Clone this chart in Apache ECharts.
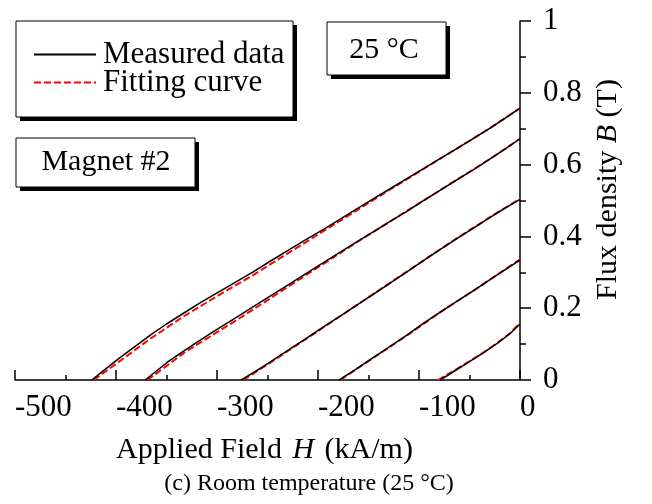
<!DOCTYPE html>
<html>
<head>
<meta charset="utf-8">
<script src="https://cdn.jsdelivr.net/npm/echarts@6/dist/echarts.min.js"></script>
<style>
html,body{margin:0;padding:0;background:#fff;}
#chart{width:652px;height:504px;}
</style>
</head>
<body>
<div id="chart"></div>
<script>
// Axis ticks
const xTicks = [-500, -400, -300, -200, -100, 0];
const yTicks = [0, 0.2, 0.4, 0.6, 0.8, 1];

// Measured data (H in kA/m, B in T)
const H1m = [-424, -412, -398, -380, -365, -350, -332, -316, -299, -282, -265, -249, -228, -212, -195, -178, -162, -145, -129, -112, -96, -80, -63, -46, -30, -15, 0];
const B1m = [0, 0.027, 0.058, 0.096, 0.127, 0.156, 0.188, 0.216, 0.244, 0.272, 0.300, 0.328, 0.364, 0.391, 0.419, 0.448, 0.476, 0.505, 0.532, 0.561, 0.588, 0.615, 0.644, 0.673, 0.701, 0.729, 0.757];
const H2m = [-371, -360, -348, -336, -320, -304, -288, -271, -249, -228, -210, -195, -178, -162, -145, -129, -112, -96, -80, -63, -46, -30, -15, 0];
const B2m = [0, 0.025, 0.052, 0.075, 0.105, 0.134, 0.162, 0.192, 0.231, 0.268, 0.300, 0.326, 0.356, 0.384, 0.413, 0.441, 0.470, 0.499, 0.527, 0.557, 0.586, 0.615, 0.643, 0.672];
const H3m = [-276, -262, -249, -228, -212, -195, -178, -162, -145, -129, -112, -96, -80, -63, -46, -30, -15, 0];
const B3m = [0, 0.024, 0.047, 0.086, 0.115, 0.147, 0.178, 0.208, 0.239, 0.269, 0.301, 0.332, 0.362, 0.393, 0.423, 0.452, 0.478, 0.503];
const H4m = [-179, -162, -145, -129, -112, -96, -80, -63, -46, -30, -15, 0];
const B4m = [0, 0.031, 0.063, 0.093, 0.125, 0.157, 0.187, 0.218, 0.249, 0.279, 0.307, 0.334];
const H5m = [-79, -66, -50, -36, -23, -10, 0];
const B5m = [0, 0.023, 0.051, 0.076, 0.101, 0.129, 0.156];

// Fitting curves
const H1f = [-422, -398, -365, -332, -299, -265, -228, -195, -162, -129, -96, -63, -30, 0];
const B1f = [0, 0.049, 0.117, 0.179, 0.235, 0.291, 0.356, 0.414, 0.472, 0.530, 0.587, 0.644, 0.701, 0.757];
const H2f = [-369, -348, -332, -304, -271, -249, -228, -195, -162, -129, -96, -63, -30, 0];
const B2f = [0, 0.043, 0.077, 0.126, 0.184, 0.224, 0.263, 0.323, 0.383, 0.441, 0.499, 0.557, 0.615, 0.672];
const H3f = [-274, -249, -212, -162, -112, -63, -30, 0];
const B3f = [0, 0.045, 0.114, 0.208, 0.302, 0.394, 0.453, 0.505];
const H4f = [-178, -145, -112, -80, -46, 0];
const B4f = [0, 0.062, 0.124, 0.187, 0.249, 0.336];
const H5f = [-81, -66, -50, -36, -23, -10, 0];
const B5f = [0, 0.025, 0.052, 0.077, 0.102, 0.130, 0.159];

const measured = [[H1m, B1m], [H2m, B2m], [H3m, B3m], [H4m, B4m], [H5m, B5m]];
const fitted = [[H1f, B1f], [H2f, B2f], [H3f, B3f], [H4f, B4f], [H5f, B5f]];

const FONT = 'Liberation Serif';
const pair = (h, b) => h.map((v, i) => [v, b[i]]);

const series = [];
fitted.forEach(([h, b]) => series.push({
  name: 'Fitting curve', type: 'line', data: pair(h, b), symbol: 'none', showSymbol: false,
  z: 2, lineStyle: { color: '#ff0000', width: 2, type: [7, 3] }, itemStyle: { color: '#ff0000' }
}));
measured.forEach(([h, b]) => series.push({
  name: 'Measured data', type: 'line', data: pair(h, b), symbol: 'none', showSymbol: false,
  z: 3, lineStyle: { color: '#000', width: 1.5, type: 'solid' }, itemStyle: { color: '#000' }
}));

function box(x, y, w, h, label, tx, ty) {
  const els = [
    { type: 'rect', z: 1, shape: { x: x + 4, y: y + 4, width: w, height: h }, style: { fill: '#000' } },
    { type: 'rect', z: 2, shape: { x: x, y: y, width: w, height: h }, style: { fill: '#fff', stroke: '#000', lineWidth: 1 } }
  ];
  if (label) els.push({ type: 'text', z: 3, x: tx, y: ty, style: { text: label, font: '30px "' + FONT + '"', fill: '#000', align: 'center', verticalAlign: 'middle' } });
  return els;
}

const chart = echarts.init(document.getElementById('chart'), null, { renderer: 'canvas' });
chart.setOption({
  animation: false,
  backgroundColor: '#fff',
  grid: { left: 15, top: 21, width: 505, height: 359, containLabel: false },
  legend: {
    data: ['Measured data', 'Fitting curve'],
    orient: 'vertical', left: 16, top: 21, z: 10,
    padding: [18, 10, 16, 17], itemGap: -3, itemWidth: 62, itemHeight: 14,
    selectedMode: false,
    itemStyle: { opacity: 0 },
    textStyle: { fontFamily: FONT, fontSize: 31, color: '#000', padding: [0, 0, 0, 2] }
  },
  xAxis: {
    type: 'value', min: xTicks[0], max: xTicks[xTicks.length - 1], interval: 100,
    name: 'Applied Field {i|H} (kA/m)', nameLocation: 'middle', nameGap: 55,
    nameTextStyle: { fontFamily: FONT, fontSize: 30, color: '#000', padding: [0, 6, 0, 0], rich: { i: { fontFamily: FONT, fontSize: 30, fontStyle: 'italic', color: '#000', padding: [0, 3, 0, 3] } } },
    axisLine: { onZero: false, lineStyle: { color: '#000', width: 1.5 } },
    axisTick: { inside: true, length: 10, lineStyle: { color: '#000', width: 1.5 } },
    minorTick: { show: true, splitNumber: 2, length: 5, lineStyle: { color: '#000', width: 1.5 } },
    splitLine: { show: false },
    axisLabel: { align: 'left', margin: 12, fontFamily: FONT, fontSize: 31, color: '#000' }
  },
  yAxis: {
    type: 'value', position: 'right', min: yTicks[0], max: yTicks[yTicks.length - 1], interval: 0.2,
    name: 'Flux density {i|B} (T)', nameLocation: 'middle', nameGap: 73, nameRotate: 90,
    nameTextStyle: { fontFamily: FONT, fontSize: 30, color: '#000', padding: [0, 0, 0, 22], rich: { i: { fontFamily: FONT, fontSize: 30, fontStyle: 'italic', color: '#000' } } },
    axisLine: { onZero: false, lineStyle: { color: '#000', width: 1.5 } },
    axisTick: { inside: false, length: 11, lineStyle: { color: '#000', width: 1.5 } },
    minorTick: { show: true, splitNumber: 2, length: 6, lineStyle: { color: '#000', width: 1.5 } },
    splitLine: { show: false },
    axisLabel: { align: 'left', margin: 23, fontFamily: FONT, fontSize: 31, color: '#000' }
  },
  graphic: [
    ...box(16, 21, 277, 96, null),
    ...box(16, 138, 179, 49, 'Magnet #2', 106, 162),
    ...box(327, 22, 119, 53, '25 °C', 384, 50),
    { type: 'text', z: 3, x: 309, y: 484, style: { text: '(c) Room temperature (25 °C)', font: '24px "' + FONT + '"', fill: '#000', align: 'center', verticalAlign: 'middle' } }
  ],
  series: series
});
</script>
</body>
</html>
